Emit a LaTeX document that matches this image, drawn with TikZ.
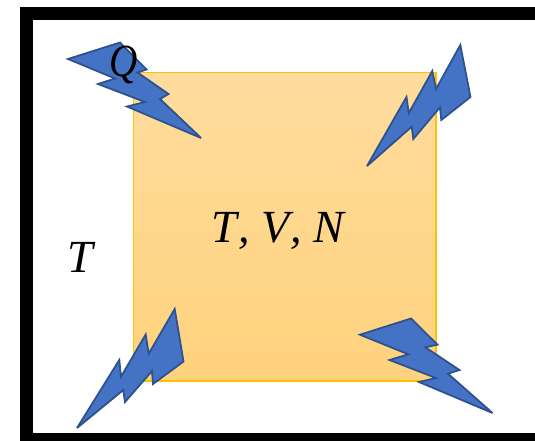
\documentclass[tikz,border=0pt]{standalone}
\usepackage{fontspec}
\setmainfont{Liberation Serif}
\definecolor{boltblue}{HTML}{4472C4}
\definecolor{boltedge}{HTML}{2F528F}
\definecolor{boxtop}{HTML}{FFDC9E}
\definecolor{boxbottom}{HTML}{FFD27C}
\definecolor{boxedge}{HTML}{FFC000}
\tikzset{
    bolt/.style={draw=boltedge, fill=boltblue, line width=1.8pt, line join=miter, miter limit=4},
    label/.style={inner sep=0pt, anchor=base, font=\fontsize{46}{50}\selectfont\itshape},
}
\begin{document}
\begin{tikzpicture}[x=1pt, y=-1pt]
        \useasboundingbox (0,0) rectangle (535,441);
        \clip (0,0) rectangle (535,441);

        % Bagno termico
        \draw[line width=13pt] (26.5,13.5) rectangle (560,439.5);

        % Sistema
        \draw[draw=boxedge, line width=1.4pt, top color=boxtop, bottom color=boxbottom] (133.5,72.5) rectangle (436,381);

        % Fulmini (calore)
        \draw[bolt] (68,59) -- (120,42.5) -- (146.5,69.5) -- (137.5,72.5) -- (168.5,94) -- (160,99) -- (201,138)
            -- (127,106.5) -- (145,102) -- (98,84) -- (115,78.5) -- cycle;
        \draw[bolt] (367,166) -- (406.5,97) -- (408.7,113.3) -- (432.3,71) -- (436,89) -- (460.3,45) -- (470.5,97)
            -- (441.3,120) -- (440,107.3) -- (413.3,139) -- (411.7,126.7) -- cycle;
        \draw[bolt] (77,428) -- (119.3,360) -- (121,376.7) -- (145.7,334.5) -- (148.7,353.7) -- (174.7,309) -- (183.5,361.5)
            -- (153,384) -- (152,371) -- (125,402) -- (123.3,390) -- cycle;
        \draw[bolt] (360,334.7) -- (411,318.5) -- (437.5,344.7) -- (425.3,347.3) -- (459.5,370) -- (448,373.7) -- (492.5,413)
            -- (419,382) -- (436,378) -- (389.5,360) -- (408.3,354.3) -- cycle;

        % Etichette
        \node[label, xscale=0.85] (heat) at (124,77) {Q};
        \node[label] (bath) at (80,272) {T};
        \node[label] (state) at (278,242) {T\kern.03em, V\kern.03em, N};

    \end{tikzpicture}
\end{document}
